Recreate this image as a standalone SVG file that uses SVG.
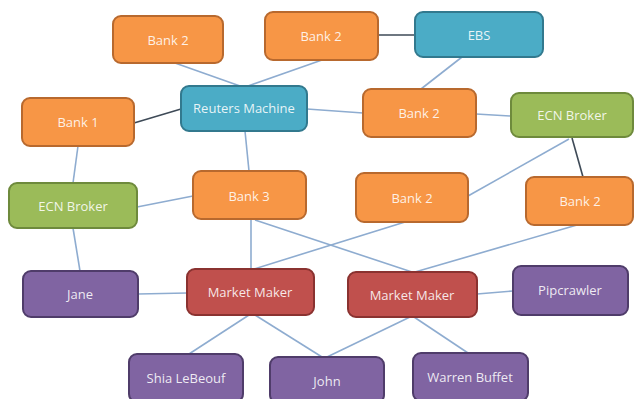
<svg xmlns="http://www.w3.org/2000/svg" width="635" height="399" viewBox="0 0 635 399">
<style>
.n rect{stroke-width:2}
.o rect{fill:#F79646;stroke:#B8692E}
.b rect{fill:#4BACC6;stroke:#32798E}
.g rect{fill:#9BBB59;stroke:#6E8A3C}
.p rect{fill:#8064A2;stroke:#4F3C6A}
.r rect{fill:#C0504D;stroke:#8A3230}
.n text{font-family:"Open Sans","Liberation Sans",sans-serif;font-size:13px;font-weight:500;fill:#ffffff;fill-opacity:0.88;text-anchor:middle;dominant-baseline:central}
.c line{stroke:#8EACD0;stroke-width:1.6}
.c line.d{stroke:#3E4A57;stroke-width:1.6}
</style>
<rect width="635" height="399" fill="#ffffff"/>
<g class="c">
<line x1="175" y1="63" x2="240" y2="86"/>
<line x1="322" y1="60" x2="248" y2="86"/>
<line class="d" x1="378" y1="35" x2="415" y2="35"/>
<line x1="462" y1="57" x2="421" y2="89"/>
<line x1="307" y1="109" x2="363" y2="113"/>
<line x1="476" y1="114" x2="510" y2="116"/>
<line class="d" x1="134" y1="123" x2="181" y2="109"/>
<line x1="78" y1="146" x2="73" y2="183"/>
<line x1="245" y1="131" x2="249" y2="171"/>
<line x1="137" y1="207" x2="193" y2="196"/>
<line x1="73" y1="228" x2="80" y2="271"/>
<line x1="138" y1="294" x2="187" y2="293"/>
<line x1="251" y1="219" x2="251" y2="269"/>
<line x1="255" y1="220" x2="412" y2="272"/>
<line x1="405" y1="222" x2="254" y2="269"/>
<line x1="569" y1="139" x2="468" y2="196"/>
<line class="d" x1="572" y1="138" x2="583" y2="177"/>
<line x1="577" y1="225" x2="415" y2="272"/>
<line x1="477" y1="294" x2="513" y2="291"/>
<line x1="249" y1="315" x2="189" y2="354"/>
<line x1="255" y1="315" x2="322" y2="357"/>
<line x1="410" y1="317" x2="327" y2="357"/>
<line x1="414" y1="317" x2="468" y2="353"/>
</g>
<g id="bank2-a" class="n o"><rect x="113" y="16" width="110" height="47" rx="8"/><text x="168" y="40">Bank 2</text></g>
<g id="bank2-b" class="n o"><rect x="265" y="12" width="113" height="48" rx="8"/><text x="321" y="36">Bank 2</text></g>
<g id="ebs" class="n b"><rect x="415" y="12" width="128" height="45" rx="8"/><text x="479" y="35">EBS</text></g>
<g id="reuters" class="n b"><rect x="181" y="86" width="126" height="45" rx="8"/><text x="244" y="108">Reuters Machine</text></g>
<g id="bank1" class="n o"><rect x="22" y="98" width="112" height="48" rx="8"/><text x="78" y="122">Bank 1</text></g>
<g id="bank2-c" class="n o"><rect x="363" y="89" width="113" height="48" rx="8"/><text x="419" y="113">Bank 2</text></g>
<g id="ecn-right" class="n g"><rect x="511" y="93" width="122" height="44" rx="8"/><text x="572" y="115">ECN Broker</text></g>
<g id="ecn-left" class="n g"><rect x="9" y="183" width="128" height="45" rx="8"/><text x="73" y="206">ECN Broker</text></g>
<g id="bank3" class="n o"><rect x="193" y="171" width="113" height="48" rx="8"/><text x="249" y="196">Bank 3</text></g>
<g id="bank2-d" class="n o"><rect x="356" y="173" width="112" height="49" rx="8"/><text x="412" y="198">Bank 2</text></g>
<g id="bank2-e" class="n o"><rect x="526" y="177" width="107" height="48" rx="8"/><text x="580" y="201">Bank 2</text></g>
<g id="jane" class="n p"><rect x="23" y="271" width="115" height="46" rx="8"/><text x="80" y="294">Jane</text></g>
<g id="mm-left" class="n r"><rect x="187" y="269" width="127" height="46" rx="8"/><text x="250" y="292">Market Maker</text></g>
<g id="mm-right" class="n r"><rect x="348" y="272" width="129" height="45" rx="8"/><text x="412" y="295">Market Maker</text></g>
<g id="pipcrawler" class="n p"><rect x="513" y="266" width="115" height="49" rx="8"/><text x="570" y="290">Pipcrawler</text></g>
<g id="shia" class="n p"><rect x="129" y="354" width="114" height="48" rx="8"/><text x="186" y="378">Shia LeBeouf</text></g>
<g id="john" class="n p"><rect x="270" y="357" width="114" height="46" rx="8"/><text x="327" y="381">John</text></g>
<g id="warren" class="n p"><rect x="413" y="353" width="115" height="48" rx="8"/><text x="470" y="377">Warren Buffet</text></g>
</svg>
